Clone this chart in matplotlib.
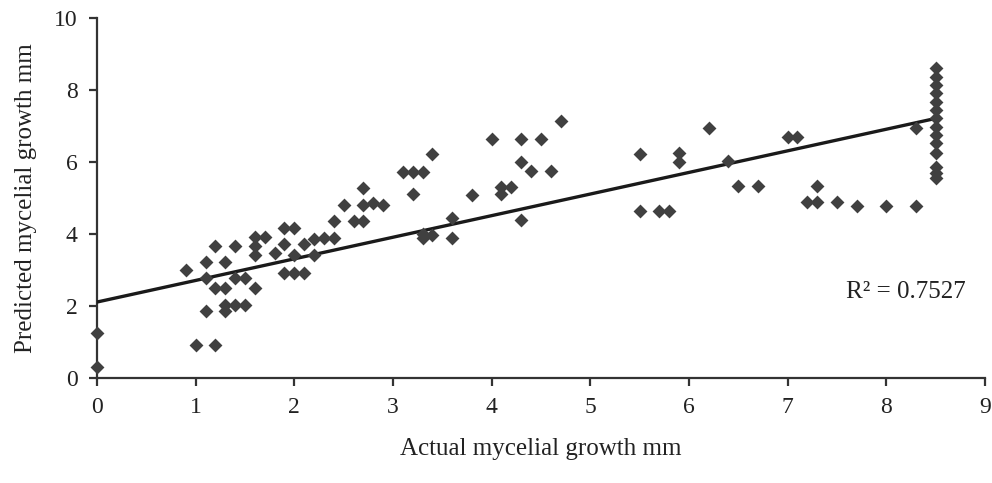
import numpy as np
import matplotlib
matplotlib.use("Agg")
import matplotlib.pyplot as plt

# actual vs predicted mycelial growth (mm)
actual = [0, 0,
          0.9, 1.0, 1.1, 1.1, 1.1, 1.2, 1.2, 1.2,
          1.3, 1.3, 1.3, 1.3, 1.4, 1.4, 1.4, 1.5, 1.5,
          1.6, 1.6, 1.6, 1.6, 1.7, 1.8,
          1.9, 1.9, 1.9, 2.0, 2.0, 2.0, 2.1, 2.1, 2.2, 2.2,
          2.3, 2.4, 2.4, 2.5, 2.6, 2.7, 2.7, 2.7, 2.8, 2.9,
          3.1, 3.2, 3.3, 3.2, 3.4, 3.3, 3.3, 3.4, 3.6, 3.6, 3.8,
          4.0, 4.1, 4.1, 4.2, 4.3, 4.3, 4.3, 4.4, 4.5, 4.6, 4.7,
          5.5, 5.5, 5.7, 5.8, 5.9, 5.9, 6.2, 6.4, 6.5, 6.7,
          7.0, 7.1, 7.2, 7.3, 7.3, 7.5, 7.7, 8.0, 8.3, 8.3,
          8.5, 8.5, 8.5, 8.5, 8.5, 8.5, 8.5, 8.5, 8.5, 8.5, 8.5, 8.5, 8.5, 8.5]
predicted = [1.25, 0.30,
             3.00, 0.92, 1.85, 2.78, 3.23, 0.92, 2.50, 3.68,
             1.85, 2.03, 2.50, 3.23, 2.03, 2.78, 3.68, 2.03, 2.78,
             2.50, 3.42, 3.68, 3.93, 3.93, 3.46,
             2.93, 3.72, 4.16, 2.93, 3.42, 4.16, 2.93, 3.72, 3.42, 3.85,
             3.88, 3.88, 4.36, 4.80, 4.36, 4.36, 4.80, 5.27, 4.85, 4.80,
             5.71, 5.71, 5.71, 5.10, 6.21, 3.90, 4.00, 3.97, 4.44, 3.88, 5.08,
             6.64, 5.30, 5.12, 5.30, 6.64, 6.00, 4.40, 5.76, 6.64, 5.76, 7.14,
             6.21, 4.65, 4.65, 4.65, 6.24, 6.01, 6.95, 6.04, 5.33, 5.33,
             6.70, 6.70, 4.90, 5.33, 4.90, 4.90, 4.79, 4.79, 4.79, 6.94,
             8.60, 8.37, 8.14, 7.91, 7.68, 7.44, 7.21, 6.98, 6.75, 6.52, 6.24, 5.85, 5.70, 5.56]

# trendline as printed in the figure (many points overlap in the 8.5 column)
trend_intercept = 2.11
trend_slope = 0.60
trend_xrange = [0, 8.5]
r2_label = "R² = 0.7527"

plt.rcParams['font.family'] = ['Liberation Serif', 'DejaVu Serif']

fig = plt.figure(figsize=(9.92, 4.83), dpi=100)
ax = fig.add_axes([0.0978, 0.2174, 0.895, 0.7453])

ax.scatter(actual, predicted, marker='D', s=50, color='#404040', zorder=5,
           linewidths=0, clip_on=False)

xs = np.array(trend_xrange)
ax.plot(xs, trend_intercept + trend_slope * xs, color='#1a1a1a', lw=2.4, zorder=4)

ax.text(8.2, 2.4, r2_label, fontsize=18, ha='center', va='center', color='#222222')

ax.set_xlim(0, 9)
ax.set_ylim(0, 10)
ax.set_xticks(range(0, 10))
ax.set_yticks(range(0, 11, 2))
for s in ['top', 'right']:
    ax.spines[s].set_visible(False)
for s in ['left', 'bottom']:
    ax.spines[s].set_linewidth(1.6)
    ax.spines[s].set_color('#333333')
ax.tick_params(direction='out', length=6, width=1.6, color='#333333',
               labelsize=17, labelcolor='#222222', pad=8)

ax.set_xlabel('Actual mycelial growth mm', fontsize=18, color='#222222', labelpad=14)
ax.set_ylabel('Predicted mycelial growth mm', fontsize=18, color='#222222', labelpad=12)

fig.savefig('out.png', dpi=100)
